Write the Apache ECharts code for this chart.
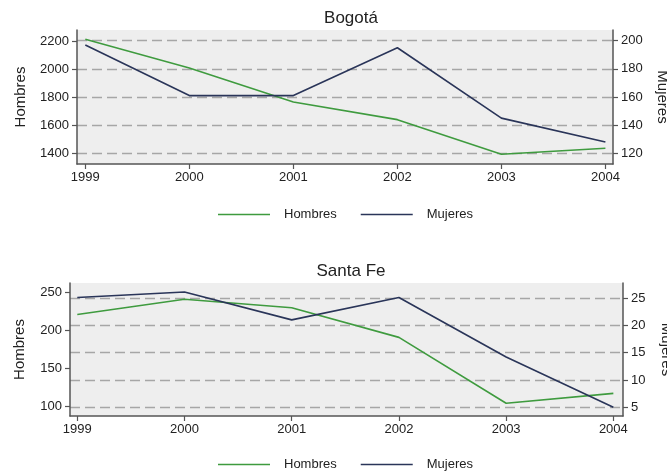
<!DOCTYPE html>
<html>
<head>
<meta charset="utf-8">
<script src="https://cdn.jsdelivr.net/npm/echarts@6/dist/echarts.min.js"></script>
<style>
  html, body { margin: 0; padding: 0; background: #fff; }
  #chart { width: 667px; height: 475px; }
</style>
</head>
<body>
<div id="chart"></div>
<script>
// años (eje x compartido)
const years = [1999, 2000, 2001, 2002, 2003, 2004];

// Bogotá
const bogotaHombres = [2217, 2012, 1768, 1641, 1393, 1436];
const bogotaMujeres = [197, 161, 161, 195, 145, 128];
const bogotaTicksH = [1400, 1600, 1800, 2000, 2200];
const bogotaTicksM = [120, 140, 160, 180, 200];

// Santa Fe
const santaFeHombres = [221, 241, 230, 191, 104.5, 117.5];
const santaFeMujeres = [25.1, 26.1, 21, 25.1, 14.2, 5];
const santaFeTicksH = [100, 150, 200, 250];
const santaFeTicksM = [5, 10, 15, 20, 25];

const GREEN = '#3f9b3f';
const NAVY = '#2a3559';
const FONT = 'Liberation Sans, Arial, sans-serif';

const chart = echarts.init(document.getElementById('chart'));

function pairs(ys) {
  return years.map((y, i) => [y, ys[i]]);
}

function xAxisFor(gridIndex, min, max) {
  return {
    type: 'value',
    gridIndex,
    min, max,
    axisLine: { show: true, onZero: false, lineStyle: { color: '#555', width: 1.5 } },
    axisTick: { show: true, length: 5, customValues: years, lineStyle: { color: '#555', width: 1.2 } },
    axisLabel: { customValues: years, formatter: v => String(v), color: '#222', fontSize: 13, fontFamily: FONT, margin: 7 },
    splitLine: { show: false }
  };
}

function leftAxis(gridIndex, min, max, ticks, gap) {
  return {
    type: 'value',
    gridIndex,
    position: 'left',
    min, max,
    name: 'Hombres',
    nameLocation: 'middle',
    nameGap: gap,
    nameTextStyle: { fontSize: 15, fontFamily: FONT, color: '#222' },
    axisLine: { show: true, lineStyle: { color: '#555', width: 1.5 } },
    axisTick: { show: true, length: 5, customValues: ticks, lineStyle: { color: '#555', width: 1.2 } },
    axisLabel: { customValues: ticks, formatter: v => String(v), color: '#222', fontSize: 13, fontFamily: FONT, margin: 8 },
    splitLine: { show: false }
  };
}

function rightAxis(gridIndex, min, max, ticks, gap) {
  return {
    type: 'value',
    gridIndex,
    position: 'right',
    min, max,
    name: 'Mujeres',
    nameLocation: 'middle',
    nameRotate: -90,
    nameGap: gap,
    nameTextStyle: { fontSize: 15, fontFamily: FONT, color: '#222' },
    axisLine: { show: true, lineStyle: { color: '#555', width: 1.5 } },
    axisTick: { show: true, length: 5, customValues: ticks, lineStyle: { color: '#555', width: 1.2 } },
    axisLabel: { customValues: ticks, formatter: v => String(v), color: '#222', fontSize: 13, fontFamily: FONT, margin: 8 },
    splitLine: { show: true, lineStyle: { color: '#a6a6a6', width: 1.3, type: [10, 5] } }
  };
}

function line(name, xi, yi, data, color) {
  return {
    name, type: 'line',
    xAxisIndex: xi, yAxisIndex: yi,
    data, symbol: 'none',
    lineStyle: { color, width: 1.6 },
    itemStyle: { color },
    z: 3
  };
}

function legendAt(top) {
  return {
    top, left: 213,
    data: ['Hombres', 'Mujeres'],
    itemWidth: 52, itemHeight: 12, itemGap: 24,
    icon: 'path://M0,5 L52,5 L52,6.5 L0,6.5 Z',
    textStyle: { fontSize: 13, fontFamily: FONT, color: '#222', padding: [0, 0, 0, 9] }
  };
}

const option = {
  backgroundColor: '#fff',
  animation: false,
  title: [
    { text: 'Bogotá', left: 346, top: 5, textAlign: 'center',
      textStyle: { fontSize: 17, fontWeight: 'normal', fontFamily: FONT, color: '#222' } },
    { text: 'Santa Fe', left: 346, top: 258, textAlign: 'center',
      textStyle: { fontSize: 17, fontWeight: 'normal', fontFamily: FONT, color: '#222' } }
  ],
  legend: [legendAt(203), legendAt(453)],
  grid: [
    { left: 77, top: 30, width: 536, height: 134, show: true, backgroundColor: '#eeeeee', borderWidth: 0,
      containLabel: false, outerBoundsMode: 'none' },
    { left: 70, top: 283, width: 553, height: 133, show: true, backgroundColor: '#eeeeee', borderWidth: 0,
      containLabel: false, outerBoundsMode: 'none' }
  ],
  xAxis: [
    xAxisFor(0, 1998.92, 2004.073),
    xAxisFor(1, 1998.932, 2004.09)
  ],
  yAxis: [
    leftAxis(0, 1323, 2284, bogotaTicksH, 49),
    rightAxis(0, 112.4, 207.6, bogotaTicksM, 42),
    leftAxis(1, 87.8, 262.4, santaFeTicksH, 43),
    rightAxis(1, 3.4, 27.75, santaFeTicksM, 36)
  ],
  series: [
    line('Hombres', 0, 0, pairs(bogotaHombres), GREEN),
    line('Mujeres', 0, 1, pairs(bogotaMujeres), NAVY),
    line('Hombres', 1, 2, pairs(santaFeHombres), GREEN),
    line('Mujeres', 1, 3, pairs(santaFeMujeres), NAVY)
  ]
};

chart.setOption(option);
</script>
</body>
</html>
